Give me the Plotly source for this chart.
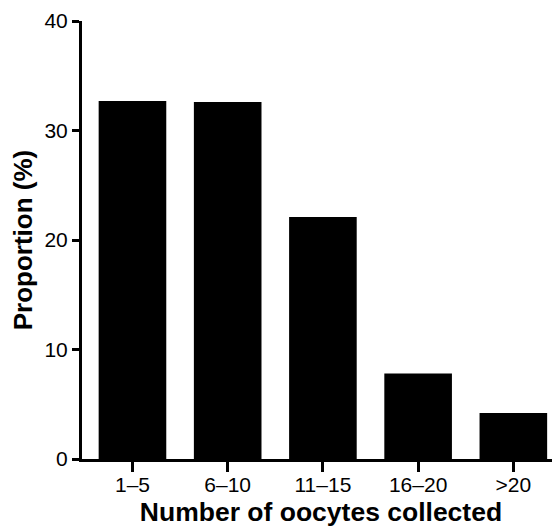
import plotly.graph_objects as go

categories = ["1–5", "6–10", "11–15", "16–20", ">20"]
proportions = [32.7, 32.6, 22.1, 7.8, 4.2]
y_ticks = [0, 10, 20, 30, 40]

FONT = "Liberation Sans, Arial, sans-serif"

fig = go.Figure(
    go.Bar(
        x=categories,
        y=proportions,
        width=0.71,
        marker=dict(color="black", line=dict(width=0)),
    )
)

# The page body adds an 8px margin, so the figure is sized to fit the window.
fig.update_layout(
    width=552,
    height=519,
    margin=dict(l=74, r=0, t=13, b=68),
    paper_bgcolor="white",
    plot_bgcolor="white",
    showlegend=False,
    font=dict(family=FONT, color="black"),
)

fig.update_xaxes(
    range=[-0.53, 4.49],
    showline=True,
    linewidth=3,
    linecolor="black",
    ticks="outside",
    ticklen=10,
    tickwidth=3,
    tickcolor="black",
    tickfont=dict(size=21, family=FONT, color="black"),
    ticklabelstandoff=-5,
    showgrid=False,
    zeroline=False,
    title=dict(
        text="<b>Number of oocytes collected</b>",
        font=dict(size=26.5, family=FONT, color="black"),
        standoff=12,
    ),
    automargin=False,
)

fig.update_yaxes(
    range=[0, 40],
    tickvals=y_ticks,
    showline=True,
    linewidth=3,
    linecolor="black",
    ticks="outside",
    ticklen=7,
    tickwidth=3,
    tickcolor="black",
    tickfont=dict(size=21, family=FONT, color="black"),
    showgrid=False,
    zeroline=False,
    title=dict(
        text="<b>Proportion (%)</b>",
        font=dict(size=26, family=FONT, color="black"),
        standoff=8,
    ),
    automargin=False,
)

fig.write_html("out.html")
